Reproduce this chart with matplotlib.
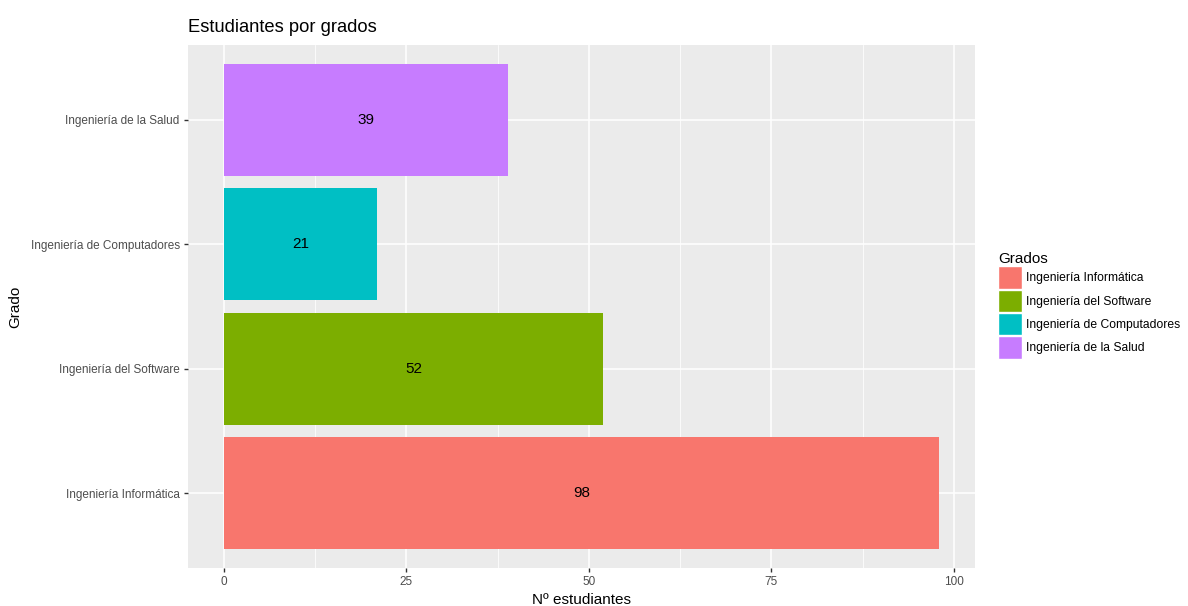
import matplotlib.pyplot as plt
from matplotlib.patches import Patch

plt.rcParams['font.family'] = ['Liberation Sans', 'DejaVu Sans']

grados = ["Ingeniería Informática", "Ingeniería del Software",
          "Ingeniería de Computadores", "Ingeniería de la Salud"]
estudiantes = [98, 52, 21, 39]
colores = ["#F8766D", "#7CAE00", "#00BFC4", "#C77CFF"]

fig = plt.figure(figsize=(11.88, 6.06), dpi=100)
ax = fig.add_axes([188 / 1188, 38 / 606, 787 / 1188, 523 / 606])
ax.set_facecolor("#EBEBEB")

pos = list(range(1, len(grados) + 1))
ax.barh(pos, estudiantes, height=0.9, color=colores, zorder=3)
for p, v in zip(pos, estudiantes):
    ax.text(v / 2, p, str(v), ha="center", va="center", fontsize=11, color="black", zorder=4)

ax.set_xlim(-4.9, 102.9)
ax.set_ylim(0.4, 4.6)
ax.set_xticks([0, 25, 50, 75, 100])
ax.set_xticks([12.5, 37.5, 62.5, 87.5], minor=True)
ax.set_yticks(pos)
ax.set_yticklabels(grados)
ax.grid(which="major", color="white", linewidth=1.1, zorder=1)
ax.grid(which="minor", axis="x", color="white", linewidth=0.55, zorder=1)
for s in ax.spines.values():
    s.set_visible(False)
ax.tick_params(which="major", length=3, width=1, color="#333333",
               labelsize=8.5, labelcolor="#4D4D4D", pad=3)
ax.tick_params(which="minor", length=0)

ax.set_xlabel("Nº estudiantes", fontsize=11, labelpad=3)
ax.set_ylabel("Grado", fontsize=11, labelpad=6)
ax.set_title("Estudiantes por grados", fontsize=13.2, loc="left", pad=9)

handles = [Patch(facecolor=c, edgecolor="white", label=g) for c, g in zip(colores, grados)]
leg = fig.legend(handles=handles, title="Grados", loc="upper left",
                 bbox_to_anchor=(993 / 1188, 1 - 247 / 606), frameon=False,
                 fontsize=8.7, title_fontsize=11, handlelength=2.0, handleheight=2.5,
                 handletextpad=0.3, labelspacing=0.05, borderaxespad=0)
leg._legend_box.align = "left"

fig.savefig("out.png", dpi=100)
